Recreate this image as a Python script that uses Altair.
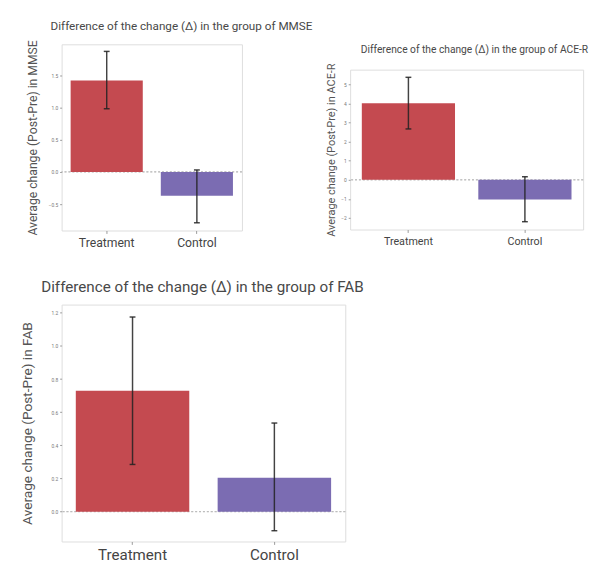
import altair as alt
import pandas as pd

groups = ["Treatment", "Control"]
bar_colors = ["#c44a50", "#7b6cb2"]

mmse_mean = [1.42, -0.37]
mmse_lo = [0.98, -0.79]
mmse_hi = [1.87, 0.03]

acer_mean = [4.0, -1.03]
acer_lo = [2.66, -2.19]
acer_hi = [5.36, 0.16]

fab_mean = [0.73, 0.205]
fab_lo = [0.285, -0.115]
fab_hi = [1.175, 0.535]

mmse_ticks = [-0.5, 0.0, 0.5, 1.0, 1.5]
acer_ticks = [-2, -1, 0, 1, 2, 3, 4, 5]
fab_ticks = [0.0, 0.2, 0.4, 0.6, 0.8, 1.0, 1.2]

FONT = "Roboto"


def panel(mean, lo, hi, measure, domain, ticks, fmt, w, h,
          title_size, label_size, ytitle_size, title_anchor, title_dx,
          title_offset, ytitle_pad):
    df = pd.DataFrame({"group": groups, "mean": mean, "lo": lo, "hi": hi})
    xax = alt.Axis(title=None, labelAngle=0, labelFontSize=label_size,
                   labelColor="#444", labelFont=FONT, tickSize=3,
                   tickColor="#999", domain=False, labelPadding=3)
    x = alt.X("group:N", sort=groups,
              scale=alt.Scale(paddingInner=0.2, paddingOuter=0.1), axis=xax)
    yax = alt.Axis(title=f"Average change (Post-Pre) in {measure}",
                   values=ticks, format=fmt, labelFontSize=5,
                   labelColor="#777", labelFont=FONT, tickSize=2,
                   tickColor="#999", domain=False, grid=False,
                   titleFontSize=ytitle_size, titleColor="#555",
                   titleFontWeight="normal", titleFont=FONT,
                   labelPadding=2, titlePadding=ytitle_pad)
    ysc = alt.Scale(domain=domain, nice=False, zero=False)
    base = alt.Chart(df)
    zero = base.mark_rule(color="#bbb", strokeDash=[2, 2], strokeWidth=1).encode(
        y=alt.Y("z:Q", scale=ysc, axis=yax)
    ).transform_calculate(z="0")
    bars = base.mark_bar().encode(
        x=x,
        y=alt.Y("mean:Q", scale=ysc, axis=yax),
        color=alt.Color("group:N", scale=alt.Scale(domain=groups, range=bar_colors), legend=None),
    )
    err = base.mark_rule(color="#222", strokeWidth=1.5, opacity=0.85).encode(
        x=x, y=alt.Y("lo:Q", scale=ysc, axis=yax), y2="hi:Q"
    )
    cap_lo = base.mark_tick(color="#222", orient="horizontal", size=6, thickness=1.5, opacity=0.85).encode(
        x=x, y=alt.Y("lo:Q", scale=ysc, axis=yax)
    )
    cap_hi = base.mark_tick(color="#222", orient="horizontal", size=6, thickness=1.5, opacity=0.85).encode(
        x=x, y=alt.Y("hi:Q", scale=ysc, axis=yax)
    )
    title = alt.TitleParams(
        f"Difference of the change (\u0394) in the group of {measure}",
        fontSize=title_size, font=FONT, color="#484848", fontWeight="normal",
        anchor=title_anchor, dx=title_dx, offset=title_offset,
    )
    return alt.layer(zero, bars, err, cap_lo, cap_hi).properties(
        width=w, height=h, title=title
    )


p1 = panel(mmse_mean, mmse_lo, mmse_hi, "MMSE", [-0.91, 1.98], mmse_ticks, ".1f",
           185, 191, 12, 12.5, 12.5, "start", 24, 7, 8.5)
p2 = panel(acer_mean, acer_lo, acer_hi, "ACE-R", [-2.6, 5.76], acer_ticks, "d",
           239, 164, 10.5, 11, 11.2, "middle", 8, 8, 4)
p3 = panel(fab_mean, fab_lo, fab_hi, "FAB", [-0.18, 1.25], fab_ticks, ".1f",
           291, 243, 15.6, 15.5, 14, "middle", -1, 9, 16.5)

spacer = alt.Chart(pd.DataFrame({"s": [0]})).mark_point(opacity=0).encode(
    x=alt.value(0), y=alt.value(0)
).properties(width=239, height=26, view=alt.ViewBackground(stroke="transparent"))

right = alt.vconcat(spacer, p2, spacing=0, bounds="flush")
top = alt.hconcat(p1, right, spacing=111, bounds="flush")
chart = alt.vconcat(top, p3, spacing=267, bounds="flush").properties(
    padding={"left": 13, "top": 4, "right": 0, "bottom": 0}
).configure_view(stroke="#888", strokeWidth=1.5).configure(background="white")

chart.save("out.html", embed_options={"renderer": "svg", "actions": False})
